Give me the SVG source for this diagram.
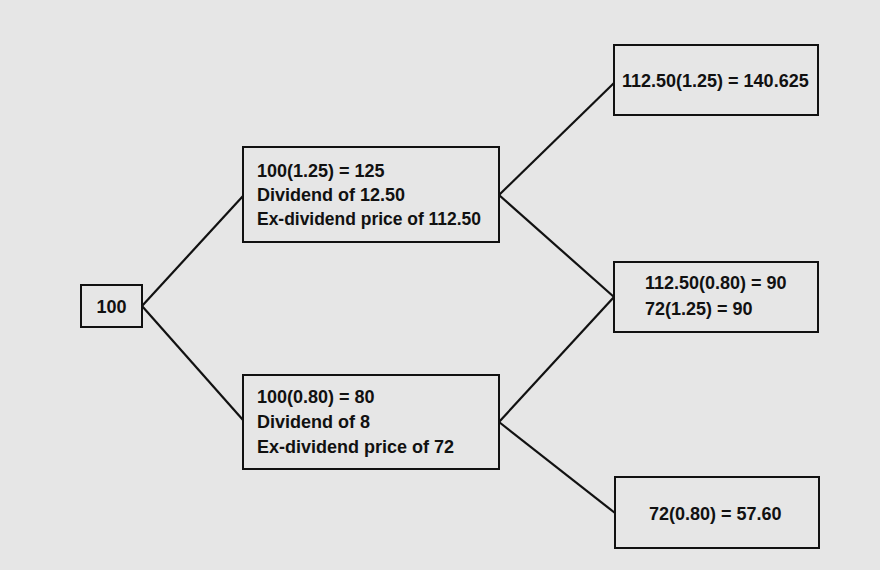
<svg xmlns="http://www.w3.org/2000/svg" width="880" height="570" viewBox="0 0 880 570">
<style>
.bg{fill:#e6e6e6}
.box{fill:none;stroke:#111;stroke-width:2}
.t{font-family:"Liberation Sans",Arial,sans-serif;font-weight:bold;font-size:18px;fill:#111}
.c{stroke:#111;stroke-width:2.2;fill:none}
</style>
<rect class="bg" x="0" y="0" width="880" height="570"/>
<g id="connectors">
<line class="c" x1="142" y1="306" x2="243" y2="196"/>
<line class="c" x1="142" y1="306" x2="243" y2="420"/>
<line class="c" x1="499" y1="195" x2="614" y2="83"/>
<line class="c" x1="499" y1="195" x2="614" y2="297"/>
<line class="c" x1="499" y1="422" x2="614" y2="297"/>
<line class="c" x1="499" y1="422" x2="615" y2="513"/>
</g>
<g id="n100">
<rect class="box" x="81" y="285" width="61" height="42"/>
<text class="t" x="111.5" y="313" text-anchor="middle">100</text>
</g>
<g id="up">
<rect class="box" x="243" y="147" width="256" height="95"/>
<text class="t" x="257" y="177">100(1.25) = 125</text>
<text class="t" x="257" y="201">Dividend of 12.50</text>
<text class="t" x="257" y="225" textLength="224" lengthAdjust="spacingAndGlyphs">Ex-dividend price of 112.50</text>
</g>
<g id="down">
<rect class="box" x="243" y="375" width="256" height="94"/>
<text class="t" x="257" y="403">100(0.80) = 80</text>
<text class="t" x="257" y="428">Dividend of 8</text>
<text class="t" x="257" y="453">Ex-dividend price of 72</text>
</g>
<g id="upup">
<rect class="box" x="614" y="45" width="204" height="70"/>
<text class="t" x="622" y="87">112.50(1.25) = 140.625</text>
</g>
<g id="updown">
<rect class="box" x="614" y="262" width="204" height="70"/>
<text class="t" x="645" y="289">112.50(0.80) = 90</text>
<text class="t" x="645" y="315">72(1.25) = 90</text>
</g>
<g id="downdown">
<rect class="box" x="615" y="477" width="204" height="71"/>
<text class="t" x="649" y="520">72(0.80) = 57.60</text>
</g>
</svg>
